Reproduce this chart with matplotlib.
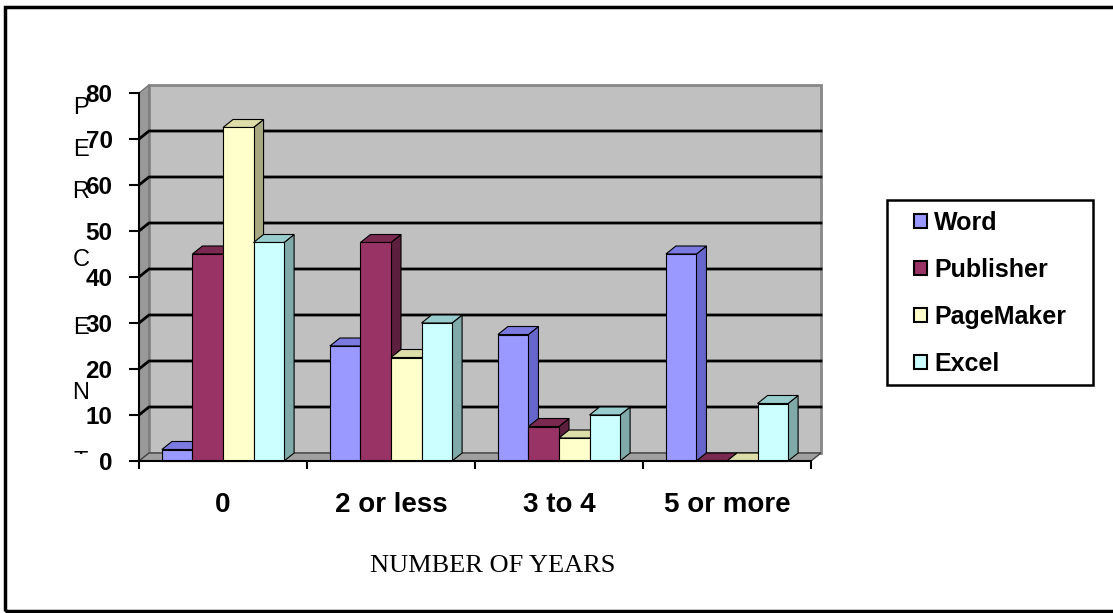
import matplotlib
matplotlib.use('Agg')
import matplotlib.pyplot as plt
from matplotlib.patches import Polygon, Rectangle, Patch

categories = ['0', '2 or less', '3 to 4', '5 or more']
series = ['Word', 'Publisher', 'PageMaker', 'Excel']
word = [2.5, 25, 27.5, 45]
publisher = [45, 47.5, 7.5, 0]
pagemaker = [72.5, 22.5, 5, 0]
excel = [47.5, 30, 10, 12.5]
yticks = list(range(0, 90, 10))
ylabel_letters = list('PERCENT')

front = ['#9999FF', '#993366', '#FFFFCC', '#CCFFFF']
side = ['#6666CC', '#5C1F3D', '#A8A882', '#80AAAA']
top = ['#7A7AE0', '#7A2951', '#DDDDAA', '#99CCCC']

plt.rcParams['font.family'] = ['Liberation Sans', 'DejaVu Sans']

W, H = 1113, 613
fig = plt.figure(figsize=(W / 100, H / 100), dpi=100)

# axes placed so the front plane of the 3d box lines up with the reference
ax = fig.add_axes([139 / W, 152 / H, 672 / W, 368 / H])
ax.set_xlim(-0.5, 3.5)
ax.set_ylim(0, 80)
ax.patch.set_visible(False)
for s in ['top', 'right']:
    ax.spines[s].set_visible(False)
for s in ['left', 'bottom']:
    ax.spines[s].set_linewidth(1.5)
    ax.spines[s].set_zorder(5)

# depth of the fake 3d effect, in data units
dx = 10 / 168
dy = 8 / 4.6
x0, x1 = -0.5, 3.5
ymax = yticks[-1]

# back wall, side wall, floor
ax.add_patch(Polygon([(x0 + dx, dy), (x1 + dx, dy), (x1 + dx, ymax + dy), (x0 + dx, ymax + dy)],
                     fc='#C0C0C0', ec='#888888', lw=2, zorder=1, clip_on=False))
ax.add_patch(Polygon([(x0, 0), (x0 + dx, dy), (x0 + dx, ymax + dy), (x0, ymax)],
                     fc='#999999', ec='#777777', lw=1, zorder=1, clip_on=False))
ax.add_patch(Polygon([(x0, 0), (x1, 0), (x1 + dx, dy), (x0 + dx, dy)],
                     fc='#A0A0A0', ec='#444444', lw=1, zorder=1.5, clip_on=False))
for v in yticks[1:-1]:
    ax.plot([x0, x0 + dx, x1 + dx], [v, v + dy, v + dy], color='black', lw=2,
            zorder=2, clip_on=False)

# bars
w = 1 / 5.5
data = [word, publisher, pagemaker, excel]
for j, vals in enumerate(data):
    xs = [i - 2 * w + j * w for i in range(len(categories))]
    for x, v in zip(xs, vals):
        ax.add_patch(Polygon([(x + w, 0), (x + w + dx, dy), (x + w + dx, v + dy), (x + w, v)],
                             fc=side[j], ec='black', lw=0.8, zorder=3, clip_on=False))
        ax.add_patch(Polygon([(x, v), (x + dx, v + dy), (x + w + dx, v + dy), (x + w, v)],
                             fc=top[j], ec='black', lw=0.8, zorder=3, clip_on=False))
    ax.bar(xs, vals, width=w, align='edge', color=front[j], edgecolor='black', lw=0.8,
           zorder=3, clip_on=False)

# y axis
ax.set_yticks(yticks)
ax.set_yticklabels([str(t) for t in yticks], fontweight='bold', fontsize=17.5)
ax.tick_params(axis='y', length=7, width=1.5, pad=12)

# x axis: ticks at boundaries, labels at centres
ax.set_xticks([x0 + k for k in range(len(categories) + 1)])
ax.tick_params(axis='x', which='major', length=6, width=1.5, labelbottom=False)
ax.set_xticks(range(len(categories)), labels=categories, minor=True)
ax.tick_params(axis='x', which='minor', length=0, pad=22, labelsize=20)
for lab in ax.get_xticklabels(minor=True):
    lab.set_fontweight('bold')

fig.text(493 / W, 1 - 566 / H, 'NUMBER OF YEARS', ha='center', va='center',
         family=['Liberation Serif', 'DejaVu Serif'], size=19)

# stacked y label, the last letter is clipped like in the original
letter_y = [108, 150, 192, 260, 328, 393]
for ch, py in zip(ylabel_letters, letter_y):
    fig.text(81 / W, 1 - py / H, ch, ha='center', va='center', size=17)
t = fig.text(81 / W, 1 - 468 / H, ylabel_letters[-1], ha='center', va='baseline', size=17)
t.set_clip_path(Rectangle((0, 1 - 453.5 / H), 1, 453.5 / H, transform=fig.transFigure))

# legend with its own frame
fig.add_artist(Rectangle((887 / W, 1 - 385 / H), 206 / W, 185 / H, transform=fig.transFigure,
                         fill=False, ec='black', lw=1.8))
handles = [Patch(fc=front[j], ec='black', lw=1.5) for j in range(len(series))]
fig.legend(handles, series, loc='upper left', bbox_to_anchor=(914 / W, 1 - 211 / H),
           frameon=False, borderpad=0, borderaxespad=0, handlelength=0.5, handleheight=0.5,
           handletextpad=0.3, labelspacing=0.92, prop={'weight': 'bold', 'size': 18})

# outer border (right side is cut off in the original)
fig.add_artist(Rectangle((5 / W, 1 - 611 / H), 1120 / W, 604 / H, transform=fig.transFigure,
                         fill=False, ec='black', lw=2.5))

fig.savefig('out.png', dpi=100)
